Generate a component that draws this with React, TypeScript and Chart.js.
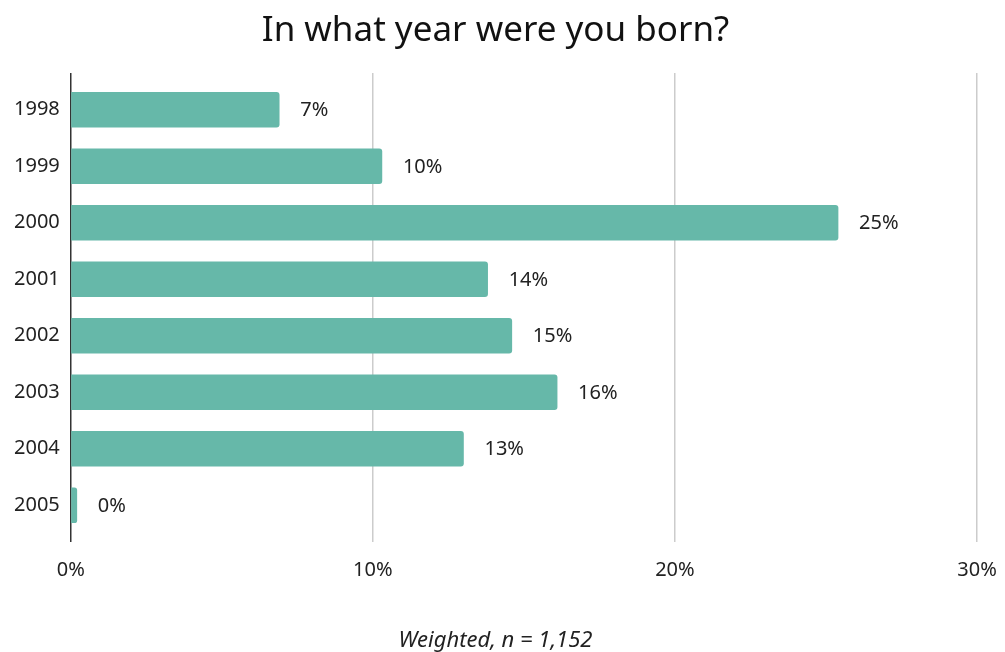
import React, { useEffect, useRef } from "react";
import { Chart, registerables } from "chart.js";

Chart.register(...registerables);

const years = ["1998", "1999", "2000", "2001", "2002", "2003", "2004", "2005"];
const shares = [6.9, 10.3, 25.4, 13.8, 14.6, 16.1, 13.0, 0.2];
const xTicks = [0, 10, 20, 30];
const titleText = "In what year were you born?";
const footerText = "Weighted, n = 1,152";

const FONT = "'Noto Sans', sans-serif";
const BAR_COLOR = "#66b8a9";

export default function App() {
  const ref = useRef<HTMLCanvasElement | null>(null);
  useEffect(() => {
    document.body.style.margin = "0";
    const canvas = ref.current!;
    const valueLabels = {
      id: "valueLabels",
      afterDatasetsDraw(chart: any) {
        const ctx = chart.ctx;
        const meta = chart.getDatasetMeta(0);
        ctx.save();
        ctx.font = `20px ${FONT}`;
        ctx.fillStyle = "#222";
        ctx.textAlign = "left";
        ctx.textBaseline = "middle";
        meta.data.forEach((el: any, i: number) => {
          ctx.fillText(Math.round(shares[i]) + "%", el.x + 21, el.y + 1);
        });
        ctx.restore();
      },
    };
    const chart = new Chart(canvas, {
      type: "bar",
      data: {
        datasets: [
          {
            data: shares.map((v, i) => ({ x: v, y: i })),
            backgroundColor: BAR_COLOR,
            borderRadius: 3,
            borderSkipped: "start",
            barThickness: 35,
          },
        ],
      },
      options: {
        indexAxis: "y",
        animation: false,
        responsive: false,
        layout: { padding: { left: 3, right: 17, top: 0, bottom: 0 } },
        scales: {
          x: {
            type: "linear",
            min: 0,
            max: 30,
            afterBuildTicks: (axis: any) => {
              axis.ticks = xTicks.map((v) => ({ value: v }));
            },
            afterFit: (axis: any) => {
              axis.paddingRight = 28;
            },
            grid: {
              drawTicks: false,
              color: (c: any) => (c.tick && c.tick.value === 0 ? "#333" : "#cccccc"),
              lineWidth: 1.5,
            },
            border: { display: false },
            ticks: {
              padding: 16,
              color: "#222",
              font: { family: FONT, size: 20 },
              callback: (v: any) => v + "%",
            },
          },
          y: {
            type: "linear",
            reverse: true,
            offset: false,
            bounds: "data",
            min: -0.65,
            max: 7.65,
            afterBuildTicks: (axis: any) => {
              axis.ticks = years.map((_, i) => ({ value: i }));
            },
            grid: { display: false, drawTicks: false },
            border: { display: false },
            ticks: {
              padding: 11,
              color: "#222",
              font: { family: FONT, size: 20 },
              callback: (v: any) => years[v] ?? "",
            },
          },
        },
        plugins: {
          legend: { display: false },
          tooltip: { enabled: false },
          title: {
            display: true,
            text: titleText,
            color: "#111",
            font: { family: FONT, size: 35, weight: "normal" },
            padding: { top: 10, bottom: 21 },
          },
          subtitle: {
            display: true,
            position: "bottom",
            text: footerText,
            color: "#222",
            font: { family: FONT, size: 22, style: "italic", lineHeight: 1 },
            padding: { top: 32, bottom: 0 },
          },
        },
      },
      plugins: [valueLabels],
    });
    return () => chart.destroy();
  }, []);
  return <canvas ref={ref} width={1005} height={652} style={{ display: "block" }} />;
}
